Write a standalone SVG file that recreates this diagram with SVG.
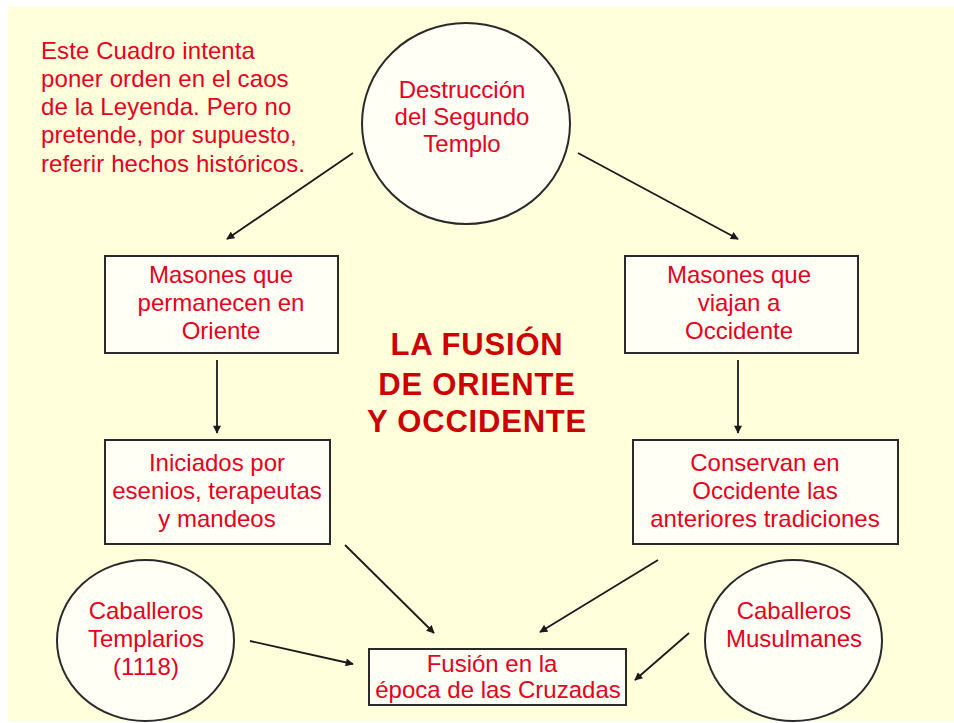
<svg xmlns="http://www.w3.org/2000/svg" width="954" height="723" viewBox="0 0 954 723">
<defs>
<marker id="ah" viewBox="0 0 10 10" refX="9" refY="5" markerWidth="9" markerHeight="8" markerUnits="userSpaceOnUse" orient="auto">
<path d="M0,0 L10,5 L0,10 z" fill="#1a1a1a"/>
</marker>
<style>
.bg{fill:#FFFFDC}
.shape{fill:#FFFFF6;stroke:#2a2a2a;stroke-width:2}
.t{font-family:"Liberation Sans",Arial,sans-serif;font-size:24px;fill:#E5001E;text-anchor:middle}
.note{font-family:"Liberation Sans",Arial,sans-serif;font-size:24px;fill:#E5001E;letter-spacing:0.1px}
.title{font-family:"Liberation Sans",Arial,sans-serif;font-size:31px;font-weight:bold;fill:#CC0000;text-anchor:middle;letter-spacing:0.8px}
.c{fill:none;stroke:#1a1a1a;stroke-width:1.8;marker-end:url(#ah)}
</style>
</defs>
<rect x="0" y="0" width="954" height="723" fill="#FFFFFF"/>
<rect class="bg" x="8" y="7" width="946" height="714"/>

<g id="nota">
<text class="note" x="41" y="59">Este Cuadro intenta</text>
<text class="note" x="41" y="87">poner orden en el caos</text>
<text class="note" x="41" y="115">de la Leyenda. Pero no</text>
<text class="note" x="41" y="143">pretende, por supuesto,</text>
<text class="note" x="41" y="172">referir hechos históricos.</text>
</g>

<g id="titulo">
<text class="title" x="477" y="355">LA FUSIÓN</text>
<text class="title" x="477" y="395">DE ORIENTE</text>
<text class="title" x="477" y="432">Y OCCIDENTE</text>
</g>

<g id="destruccion">
<ellipse class="shape" cx="466" cy="123.5" rx="104" ry="100.5"/>
<text class="t" x="462" y="98">Destrucción</text>
<text class="t" x="462" y="125">del Segundo</text>
<text class="t" x="462" y="152">Templo</text>
</g>

<g id="oriente">
<rect class="shape" x="105" y="256" width="233" height="97"/>
<text class="t" x="221" y="283">Masones que</text>
<text class="t" x="221" y="311">permanecen en</text>
<text class="t" x="221" y="339">Oriente</text>
</g>

<g id="occidente">
<rect class="shape" x="625" y="256" width="233" height="97"/>
<text class="t" x="739" y="283">Masones que</text>
<text class="t" x="739" y="311">viajan a</text>
<text class="t" x="739" y="339">Occidente</text>
</g>

<g id="iniciados">
<rect class="shape" x="105" y="440" width="225" height="104"/>
<text class="t" x="217" y="471">Iniciados por</text>
<text class="t" x="217" y="499">esenios, terapeutas</text>
<text class="t" x="217" y="527">y mandeos</text>
</g>

<g id="conservan">
<rect class="shape" x="633" y="440" width="265" height="104"/>
<text class="t" x="765" y="471">Conservan en</text>
<text class="t" x="765" y="499">Occidente las</text>
<text class="t" x="765" y="527">anteriores tradiciones</text>
</g>

<g id="templarios">
<ellipse class="shape" cx="145.5" cy="640.5" rx="88.5" ry="80.5"/>
<text class="t" x="146" y="619">Caballeros</text>
<text class="t" x="146" y="647">Templarios</text>
<text class="t" x="146" y="675">(1118)</text>
</g>

<g id="musulmanes">
<ellipse class="shape" cx="793.5" cy="640.5" rx="88.5" ry="80.5"/>
<text class="t" x="794" y="619">Caballeros</text>
<text class="t" x="794" y="647">Musulmanes</text>
</g>

<g id="fusion">
<rect class="shape" x="369" y="649" width="257" height="56"/>
<text class="t" x="492" y="672">Fusión en la</text>
<text class="t" x="498" y="698">época de las Cruzadas</text>
</g>

<g id="conectores">
<line class="c" x1="353" y1="153" x2="227" y2="239"/>
<line class="c" x1="578" y1="153" x2="738" y2="239"/>
<line class="c" x1="217" y1="360" x2="217" y2="433"/>
<line class="c" x1="738" y1="360" x2="738" y2="433"/>
<line class="c" x1="345" y1="545" x2="434" y2="633"/>
<line class="c" x1="658" y1="560" x2="540" y2="632"/>
<line class="c" x1="250" y1="641" x2="353" y2="664"/>
<line class="c" x1="689" y1="633" x2="635" y2="680"/>
</g>
</svg>
